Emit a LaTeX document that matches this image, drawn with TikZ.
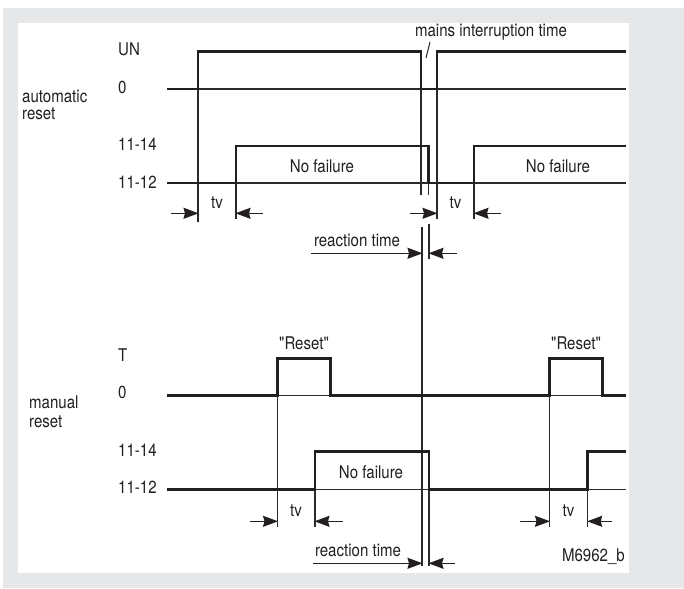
\documentclass[tikz,border=0pt]{standalone}
\usepackage{fontspec}
\newfontfamily\heros{TeX Gyre Heros}[FakeStretch=0.86]
\usetikzlibrary{arrows.meta}
\definecolor{ink}{HTML}{231F20}
\definecolor{thinink}{HTML}{2A2A2A}
\definecolor{bggray}{HTML}{E6E7E8}
\tikzset{
  sig/.style={draw=ink, line width=2.8pt, line join=miter},
  thinl/.style={draw=thinink, line width=1.2pt},
  dim/.style={draw=ink, line width=1.2pt, -{Stealth[length=15pt,width=11pt,inset=1.5pt]}},
  lbl/.style={inner sep=0pt, text=ink, font=\heros\fontsize{17.5}{19}\selectfont},
  lblw/.style={lbl, anchor=west},
}
\begin{document}
\begin{tikzpicture}[x=1pt,y=-1pt]
\useasboundingbox (0,0) rectangle (684,588);
\fill[bggray] (3,8) rectangle (684,588);
\fill[white] (18,23) rectangle (629,573);

% ---------------- automatic reset ----------------
\node[lblw] (aUN) at (118,49) {UN};
\node[lblw] (a0) at (118,87) {0};
\node[lblw] (a14) at (118,144) {11-14};
\node[lblw] (a12) at (118,182) {11-12};
\node[lblw] (auto1) at (22,96) {automatic};
\node[lblw] (auto2) at (22,113.5) {reset};

% thin reference lines
\draw[thinl] (198,89) -- (626,89);
\draw[thinl] (236,183) -- (626,183);
% thin verticals
\draw[thinl] (198,52) -- (198,222);
\draw[thinl] (421,52) -- (421,195);
\draw[thinl] (437,52) -- (437,219);
\draw[thinl] (428.7,146) -- (428.7,195);
\draw[thinl] (236,146) -- (236,219);
\draw[thinl] (474,146) -- (474,219);
% signals
\draw[sig] (167,89) -- (198,89) -- (198,51.7) -- (421,51.7) -- (421,89) -- (437,89) -- (437,51.7) -- (626,51.7);
\draw[sig] (167,183) -- (236,183) -- (236,146) -- (428.7,146) -- (428.7,183) -- (474,183) -- (474,146) -- (626,146);

\node[lbl] (mains) at (491,32) {mains interruption time};
\coordinate (sl1) at (426,58);
\coordinate (sl2) at (430,42);
\draw[thinl, line width=1pt] (sl1) -- (sl2);

\node[lbl] (nf1) at (322,166) {No failure};
\node[lbl] (nf2) at (558,166) {No failure};

% tv dims
\coordinate (t1a) at (171,213.3); \coordinate (t1b) at (198.5,213.3);
\coordinate (t1c) at (263,213.3); \coordinate (t1d) at (235.5,213.3);
\draw[dim] (t1a) -- (t1b);
\draw[dim] (t1c) -- (t1d);
\node[lbl] (tv1) at (217,203) {tv};
\coordinate (t2a) at (410,213.3); \coordinate (t2b) at (437.5,213.3);
\coordinate (t2c) at (501,213.3); \coordinate (t2d) at (473.5,213.3);
\draw[dim] (t2a) -- (t2b);
\draw[dim] (t2c) -- (t2d);
\node[lbl] (tv2) at (455.5,203) {tv};

% reaction time top
\draw[thinl] (422,227) -- (422,566);
\draw[thinl] (429,224) -- (429,259);
\coordinate (r1a) at (311,253.3); \coordinate (r1b) at (422.5,253.3);
\coordinate (r1c) at (457,253.3); \coordinate (r1d) at (428.5,253.3);
\draw[dim] (r1a) -- (r1b);
\draw[dim] (r1c) -- (r1d);
\node[lbl] (rt1) at (357,240) {reaction time};

% ---------------- manual reset ----------------
\node[lblw] (mT) at (118,355) {T};
\node[lblw] (m0) at (118,392) {0};
\node[lblw] (m14) at (118,450) {11-14};
\node[lblw] (m12) at (118,487.5) {11-12};
\node[lblw] (man1) at (29,402.5) {manual};
\node[lblw] (man2) at (29,421.5) {reset};

\draw[thinl] (167,395.5) -- (626,395.5);
\draw[thinl] (167,489.3) -- (626,489.3);
\draw[thinl] (277.5,358.3) -- (277.5,527);
\draw[thinl] (549.5,358.3) -- (549.5,527);
\draw[thinl] (315,451.7) -- (315,527);
\draw[thinl] (587.7,451.7) -- (587.7,527);
\draw[thinl] (429,489.3) -- (429,566);

\draw[sig] (167,395.5) -- (277.5,395.5) -- (277.5,358.3) -- (330.5,358.3) -- (330.5,395.5) -- (549.5,395.5) -- (549.5,358.3) -- (602.7,358.3) -- (602.7,395.5) -- (626,395.5);
\draw[sig] (167,489.3) -- (315,489.3) -- (315,451.7) -- (429,451.7) -- (429,489.3) -- (587.7,489.3) -- (587.7,451.7) -- (626,451.7);

\node[lbl] (rs1) at (304,343) {"Reset"};
\node[lbl] (rs2) at (576,343) {"Reset"};
\node[lbl] (nf3) at (371,472.5) {No failure};

\coordinate (t3a) at (250,521.3); \coordinate (t3b) at (278,521.3);
\coordinate (t3c) at (343,521.3); \coordinate (t3d) at (314.5,521.3);
\draw[dim] (t3a) -- (t3b);
\draw[dim] (t3c) -- (t3d);
\node[lbl] (tv3) at (296,511) {tv};
\coordinate (t4a) at (520,521.3); \coordinate (t4b) at (550,521.3);
\coordinate (t4c) at (612,521.3); \coordinate (t4d) at (587.2,521.3);
\draw[dim] (t4a) -- (t4b);
\draw[dim] (t4c) -- (t4d);
\node[lbl] (tv4) at (568.5,511) {tv};

\coordinate (r2a) at (313,563.3); \coordinate (r2b) at (422.5,563.3);
\coordinate (r2c) at (455,563.3); \coordinate (r2d) at (428.5,563.3);
\draw[dim] (r2a) -- (r2b);
\draw[dim] (r2c) -- (r2d);
\node[lbl] (rt2) at (358,550) {reaction time};

\node[lbl, anchor=east] (code) at (625,556.5) {M6962\_b};
\end{tikzpicture}
\end{document}
